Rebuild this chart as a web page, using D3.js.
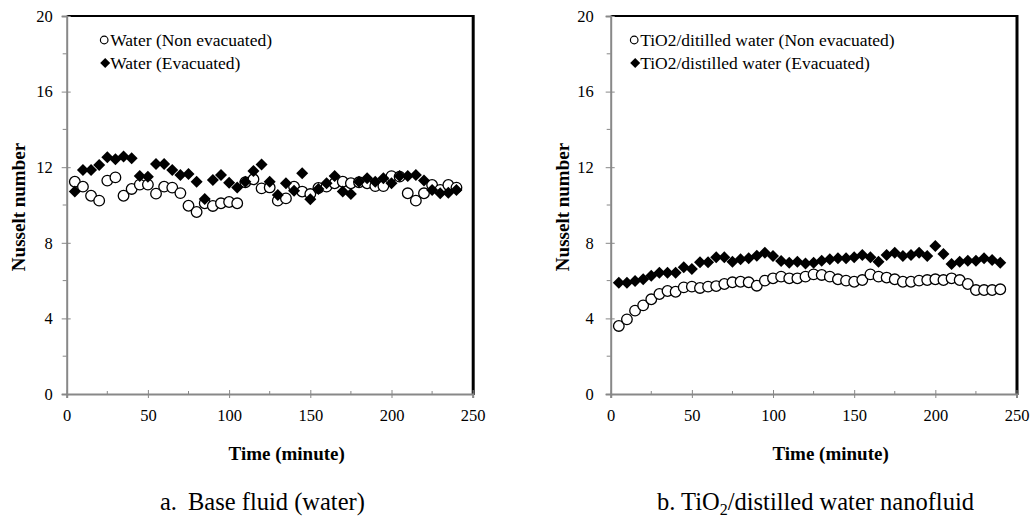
<!DOCTYPE html>
<html lang="en">
<head>
    <meta charset="UTF-8">
    <title>Nusselt number vs time</title>
    <script src="https://d3js.org/d3.v7.min.js"></script>
    <style>
        body { margin: 0; background: #fff; }
        svg text { font-family: "Liberation Serif", "Times New Roman", serif; fill: #000; }
        .tick-label { font-size: 16.5px; }
        .axis-title { font-size: 19px; font-weight: bold; }
        .legend-text { font-size: 17.5px; }
        .caption { font-size: 24.5px; }
    </style>
</head>
<body>
<svg width="1031" height="517"></svg>
<script>
// time (minute)
const timeMin = [5, 10, 15, 20, 25, 30, 35, 40, 45, 50, 55, 60, 65, 70, 75, 80, 85, 90, 95, 100, 105, 110, 115, 120,
                 125, 130, 135, 140, 145, 150, 155, 160, 165, 170, 175, 180, 185, 190, 195, 200, 205, 210, 215, 220, 225, 230, 235, 240];

// panel a: base fluid (water)
const waterNonEvac = [11.23, 10.97, 10.49, 10.23, 11.29, 11.46, 10.49, 10.85, 11.08, 11.08, 10.60, 10.97, 10.92, 10.63, 9.96, 9.63, 10.09, 9.95, 10.09, 10.16, 10.09, 11.2, 11.36, 10.88,
                      10.93, 10.23, 10.35, 10.97, 10.71, 10.58, 10.9, 10.97, 11.15, 11.23, 11.15, 11.2, 11.15, 11.0, 11.0, 11.53, 11.5, 10.62, 10.23, 10.62, 11.06, 10.8, 11.06, 10.92];
const waterEvac = [10.71, 11.85, 11.85, 12.12, 12.52, 12.42, 12.56, 12.47, 11.53, 11.5, 12.17, 12.17, 11.85, 11.59, 11.64, 11.23, 10.32, 11.32, 11.59, 11.18, 10.93, 11.23, 11.8, 12.14,
                   11.23, 10.53, 11.15, 10.76, 11.68, 10.3, 10.85, 11.15, 11.53, 10.71, 10.58, 11.23, 11.41, 11.23, 11.41, 11.15, 11.53, 11.53, 11.59, 11.29, 10.79, 10.62, 10.65, 10.79];

// panel b: TiO2/distilled water nanofluid
const tio2NonEvac = [3.60, 3.95, 4.41, 4.69, 5.01, 5.29, 5.45, 5.41, 5.64, 5.68, 5.61, 5.68, 5.71, 5.82, 5.91, 5.94, 5.91, 5.73, 6.0, 6.12, 6.21, 6.12, 6.12, 6.21,
                     6.33, 6.30, 6.21, 6.07, 6.0, 5.94, 6.03, 6.33, 6.21, 6.16, 6.07, 5.94, 5.94, 6.0, 6.03, 6.07, 6.03, 6.12, 6.03, 5.82, 5.50, 5.50, 5.50, 5.54];
const tio2Evac = [5.89, 5.89, 5.98, 6.07, 6.26, 6.42, 6.42, 6.42, 6.70, 6.61, 6.97, 6.97, 7.23, 7.23, 7.0, 7.13, 7.18, 7.32, 7.48, 7.3, 7.04, 6.95, 7.0, 6.91,
                  6.95, 7.05, 7.13, 7.18, 7.18, 7.23, 7.35, 7.23, 7.0, 7.35, 7.48, 7.30, 7.35, 7.48, 7.30, 7.83, 7.41, 6.88, 7.0, 7.05, 7.05, 7.18, 7.09, 6.95];

const xTicks = [0, 50, 100, 150, 200, 250];
const yTicks = [0, 4, 8, 12, 16, 20];

const svg = d3.select("svg");

// diamond marker (square turned 45 deg)
const diamondType = {
    draw(ctx, size) {
        const r = Math.sqrt(size / 2);
        ctx.moveTo(0, -r); ctx.lineTo(r, 0); ctx.lineTo(0, r); ctx.lineTo(-r, 0); ctx.closePath();
    }
};

function drawPanel(opt) {
    const x = d3.scaleLinear().domain([0, 250]).range([opt.left, opt.right]);
    const y = d3.scaleLinear().domain([0, 20]).range([394, 16]);
    const g = svg.append("g");

    // frame: black top/right, grey axes left/bottom
    g.append("line").attr("x1", x(0)).attr("x2", x(250) + 1).attr("y1", y(20)).attr("y2", y(20))
        .attr("stroke", "#000").attr("stroke-width", 2);
    g.append("line").attr("x1", x(250) + 0.5).attr("x2", x(250) + 0.5).attr("y1", y(20) - 1).attr("y2", y(0) + 1)
        .attr("stroke", "#000").attr("stroke-width", 3);

    // minor ticks
    g.selectAll(".ymin").data(d3.range(2, 20, 4)).enter().append("line")
        .attr("x1", x(0) - 4).attr("x2", x(0)).attr("y1", d => y(d)).attr("y2", d => y(d))
        .attr("stroke", "#888").attr("stroke-width", 1);
    g.selectAll(".xmin").data(d3.range(25, 250, 50)).enter().append("line")
        .attr("x1", d => x(d)).attr("x2", d => x(d)).attr("y1", y(0) - 3).attr("y2", y(0))
        .attr("stroke", "#888").attr("stroke-width", 1);

    // y axis (major ticks cross the axis)
    const ya = g.append("g").attr("transform", `translate(${x(0)},0)`)
        .call(d3.axisLeft(y).tickValues(yTicks).tickSize(5).tickPadding(opt.yPad));
    ya.attr("font-family", null).attr("font-size", null);
    ya.select(".domain").attr("stroke", "#888").attr("stroke-width", 2);
    ya.selectAll(".tick line").attr("stroke", "#888").attr("x2", 4).attr("x1", -5);
    ya.selectAll(".tick text").attr("class", "tick-label");

    // x axis
    const xa = g.append("g").attr("transform", `translate(0,${y(0)})`)
        .call(d3.axisBottom(x).tickValues(xTicks).tickSize(4).tickPadding(11));
    xa.attr("font-family", null).attr("font-size", null);
    xa.select(".domain").attr("stroke", "#888").attr("stroke-width", 2);
    xa.selectAll(".tick line").attr("stroke", "#888").attr("y1", -4);
    xa.selectAll(".tick text").attr("class", "tick-label");

    // axis titles
    g.append("text").attr("class", "axis-title")
        .attr("transform", `translate(${opt.yTitleX},${y(10) + 2}) rotate(-90)`)
        .attr("text-anchor", "middle").attr("dy", "0.35em").text("Nusselt number");
    g.append("text").attr("class", "axis-title")
        .attr("x", x(125) + 17).attr("y", 453).attr("text-anchor", "middle").attr("dy", "0.35em")
        .text("Time (minute)");

    // series
    const ptsA = timeMin.map((t, i) => ({ t, v: opt.evac[i] }));
    const ptsB = timeMin.map((t, i) => ({ t, v: opt.nonEvac[i] }));

    g.selectAll(".circ").data(ptsB).enter().append("circle")
        .attr("cx", d => x(d.t)).attr("cy", d => y(d.v)).attr("r", 5.3)
        .attr("fill", "#fff").attr("stroke", "#000").attr("stroke-width", 1.3);

    const dia = d3.symbol().type(diamondType).size(72);
    g.selectAll(".dia").data(ptsA).enter().append("path")
        .attr("d", dia).attr("transform", d => `translate(${x(d.t)},${y(d.v)})`)
        .attr("fill", "#000");

    // legend
    const lx = x(0) + opt.legendDx;
    g.append("circle").attr("cx", lx).attr("cy", 40).attr("r", 3.8)
        .attr("fill", "#fff").attr("stroke", "#000").attr("stroke-width", 1.2);
    g.append("text").attr("class", "legend-text").attr("x", lx + 6).attr("y", 40).attr("dy", "0.35em")
        .text(opt.labelNon);
    g.append("path").attr("d", d3.symbol().type(diamondType).size(50))
        .attr("transform", `translate(${lx + 1},63)`).attr("fill", "#000");
    g.append("text").attr("class", "legend-text").attr("x", lx + 6).attr("y", 63).attr("dy", "0.35em")
        .text(opt.labelEvac);
}

drawPanel({
    left: 66.7, right: 472.7, yTitleX: 18, legendDx: 37.5, yPad: 9,
    nonEvac: waterNonEvac, evac: waterEvac,
    labelNon: "Water (Non evacuated)", labelEvac: "Water (Evacuated)"
});
drawPanel({
    left: 610.7, right: 1016.5, yTitleX: 562, legendDx: 23.5, yPad: 12,
    nonEvac: tio2NonEvac, evac: tio2Evac,
    labelNon: "TiO2/ditilled water (Non evacuated)", labelEvac: "TiO2/distilled water (Evacuated)"
});

// captions
svg.append("text").attr("class", "caption").attr("x", 160).attr("y", 501).attr("dy", "0.35em").text("a.");
svg.append("text").attr("class", "caption").attr("x", 188).attr("y", 501).attr("dy", "0.35em").text("Base fluid (water)");

const capB = svg.append("text").attr("class", "caption").attr("x", 657).attr("y", 501).attr("dy", "0.35em");
capB.append("tspan").text("b. TiO");
capB.append("tspan").attr("font-size", "16px").attr("dy", 5).text("2");
capB.append("tspan").attr("dy", -5).text("/distilled water nanofluid");
</script>
</body>
</html>
